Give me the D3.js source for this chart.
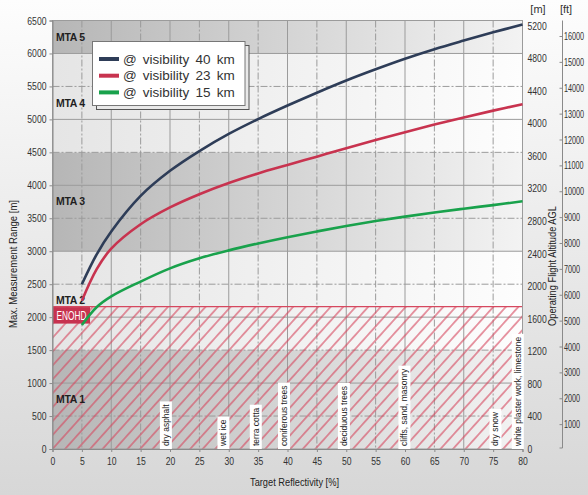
<!DOCTYPE html>
<html>
<head>
<meta charset="utf-8">
<script src="https://cdn.jsdelivr.net/npm/d3@7"></script>
<style>
  html, body { margin: 0; padding: 0; }
  body { width: 588px; height: 495px; overflow: hidden; }
  svg { display: block; }
</style>
</head>
<body>
<svg id="chart" width="588" height="495"></svg>
<script>
// Target reflectivity [%] sample points
const reflectivity = [5, 7.5, 10, 15, 20, 25, 30, 35, 40, 45, 50, 55, 60, 65, 70, 75, 80];
// Max. measurement range [m] for each visibility
const range40km = [2500, 2950, 3300, 3840, 4220, 4520, 4780, 5005, 5210, 5405, 5590, 5760, 5920, 6065, 6195, 6320, 6440];
const range23km = [2250, 2725, 3040, 3410, 3665, 3865, 4035, 4180, 4308, 4435, 4562, 4686, 4806, 4921, 5030, 5133, 5230];
const range15km = [1880, 2150, 2315, 2540, 2740, 2893, 3013, 3118, 3213, 3300, 3383, 3458, 3525, 3588, 3645, 3700, 3757];
const seriesNames = ["@ visibility 40 km", "@ visibility 23 km", "@ visibility 15 km"];
const seriesColors = ["#2e3d58", "#c8334f", "#19a24c"];

// Multiple-time-around zones
const mtaNames = ["MTA 1", "MTA 2", "MTA 3", "MTA 4", "MTA 5"];
const mtaBounds = [0, 1500, 3000, 4500, 6000, 6500];

// Eye-safety distance
const enohd = 2160;

// Typical targets
const materials = ["dry asphalt", "wet ice", "terra cotta", "coniferous trees", "deciduous trees",
                   "cliffs, sand, masonry", "dry snow", "white plaster work, limestone"];
const materialRefl = [19.3, 29.1, 34.6, 39.4, 49.6, 59.9, 75.4, 79.2];

// Axis ticks
const xTicks = d3.range(0, 81, 5);
const yTicks = d3.range(0, 6501, 500);
const mTicks = d3.range(0, 5201, 400);
const ftTicks = d3.range(1000, 16001, 1000);

const svg = d3.select("#chart");
const defs = svg.append("defs");

const x = d3.scaleLinear().domain([0, 80]).range([52.5, 522.5]);
const y = d3.scaleLinear().domain([0, 6500]).range([449, 20.5]);
const yM = d3.scaleLinear().domain([0, 5200]).range([449, 25.5]);
const yFt = d3.scaleLinear().domain([0, 16000]).range([450, 36]);

const x0 = x(0), x1 = x(80), yTop = y(6500), yBot = y(0);

const sans = "'Liberation Sans', Arial, sans-serif";
// squeeze a text to a narrow width, like a condensed face
function narrow(sel, perChar) {
  sel.each(function () {
    const n = this.textContent.length;
    d3.select(this).attr("textLength", n * perChar).attr("lengthAdjust", "spacingAndGlyphs");
  });
}

// page background
const bg = defs.append("linearGradient").attr("id", "pageBg").attr("x1", 0).attr("y1", 0).attr("x2", 0).attr("y2", 1);
bg.append("stop").attr("offset", "0%").attr("stop-color", "#fdfdfd");
bg.append("stop").attr("offset", "100%").attr("stop-color", "#d7d7d7");
svg.append("rect").attr("width", 588).attr("height", 495).attr("fill", "url(#pageBg)");

// band gradients
function bandGradient(id, c0, c1) {
  const g = defs.append("linearGradient").attr("id", id).attr("x1", 0).attr("y1", 0).attr("x2", 1).attr("y2", 0);
  g.append("stop").attr("offset", "0%").attr("stop-color", c0);
  g.append("stop").attr("offset", "100%").attr("stop-color", c1);
}
bandGradient("bandDark", "#b6b6b6", "#f3f3f3");
bandGradient("bandLight", "#e5e5e5", "#fdfdfd");

const bands = svg.append("g");
mtaNames.forEach((name, i) => {
  const lo = mtaBounds[i], hi = mtaBounds[i + 1];
  bands.append("rect")
    .attr("x", x0).attr("width", x1 - x0)
    .attr("y", y(hi)).attr("height", y(lo) - y(hi))
    .attr("fill", i % 2 === 0 ? "url(#bandDark)" : "url(#bandLight)");
});

// grid
const grid = svg.append("g").attr("stroke", "#9b9b9b").attr("stroke-width", 1).attr("fill", "none");
xTicks.filter(v => v > 0 && v < 80).forEach(v => {
  grid.append("line")
    .attr("x1", x(v)).attr("x2", x(v)).attr("y1", yTop).attr("y2", yBot)
    .attr("stroke-dasharray", v % 10 === 0 ? null : "7,2,2,2");
});
yTicks.filter(v => v > 0 && v < 6500).forEach(v => {
  grid.append("line")
    .attr("x1", x0).attr("x2", x1).attr("y1", y(v)).attr("y2", y(v))
    .attr("stroke-dasharray", v % 1000 === 0 ? null : "7,2,2,2");
});

// hatched zone below ENOHD
const pat = defs.append("pattern").attr("id", "hatch")
  .attr("patternUnits", "userSpaceOnUse").attr("width", 9.3).attr("height", 10)
  .attr("patternTransform", "rotate(42)");
pat.append("line").attr("x1", 4.65).attr("x2", 4.65).attr("y1", 0).attr("y2", 10)
  .attr("stroke", "#d6485f").attr("stroke-width", 1.1);
svg.append("rect")
  .attr("x", x0).attr("width", x1 - x0)
  .attr("y", y(enohd)).attr("height", yBot - y(enohd))
  .attr("fill", "url(#hatch)");
svg.append("line")
  .attr("x1", x0).attr("x2", x1).attr("y1", y(enohd)).attr("y2", y(enohd))
  .attr("stroke", "#d6485f").attr("stroke-width", 1.2);

// plot frame
svg.append("rect").attr("x", x0).attr("y", yTop).attr("width", x1 - x0).attr("height", yBot - yTop)
  .attr("fill", "none").attr("stroke", "#9b9b9b").attr("stroke-width", 1);

// MTA labels
svg.append("g").selectAll("text").data(mtaNames).join("text")
  .attr("x", x0 + 3.5)
  .attr("y", (d, i) => y((mtaBounds[i] + mtaBounds[i + 1]) / 2))
  .attr("dy", "0.35em")
  .attr("font-family", sans)
  .attr("font-weight", "bold").attr("font-size", 10.5).attr("fill", "#1f1f1f")
  .attr("letter-spacing", -0.3)
  .text(d => d);

// ENOHD tag
const tagW = x(6.3) - x0;
svg.append("rect").attr("x", x0 + 0.5).attr("y", y(enohd) + 0.5).attr("width", tagW).attr("height", 16.5)
  .attr("fill", "#c7324f");
svg.append("text").attr("x", x0 + 0.5 + tagW / 2).attr("y", y(enohd) + 9).attr("dy", "0.36em")
  .attr("text-anchor", "middle").attr("fill", "#ffffff")
  .attr("font-family", sans).attr("font-size", 12)
  .attr("textLength", 30).attr("lengthAdjust", "spacingAndGlyphs")
  .text("ENOHD");

// material labels
const matG = svg.append("g");
materials.forEach((m, i) => {
  const cx = x(materialRefl[i]);
  const g = matG.append("g").attr("transform", `translate(${cx},${yBot})`);
  const r = g.append("rect").attr("fill", "#ffffff");
  const t = g.append("text").attr("transform", "rotate(-90)")
    .attr("x", 3).attr("y", 0).attr("dy", "0.35em")
    .attr("font-family", sans)
    .attr("font-size", 8.5).attr("fill", "#222").text(m);
  const len = t.node().getComputedTextLength();
  r.attr("x", -6).attr("width", 12).attr("y", -(len + 6)).attr("height", len + 6);
});

// curves
const seriesData = [range40km, range23km, range15km];
const line = d3.line().x(d => x(d[0])).y(d => y(d[1])).curve(d3.curveCatmullRom.alpha(0.5));
svg.append("g").selectAll("path").data(seriesData).join("path")
  .attr("d", s => line(reflectivity.map((r, i) => [r, s[i]])))
  .attr("fill", "none")
  .attr("stroke", (d, i) => seriesColors[i])
  .attr("stroke-width", 2.6);

// axes
const axL = svg.append("g").attr("transform", `translate(${x0},0)`)
  .call(d3.axisLeft(y).tickValues(yTicks).tickSize(3).tickPadding(3).tickFormat(d3.format("d")));
const axB = svg.append("g").attr("transform", `translate(0,${yBot})`)
  .call(d3.axisBottom(x).tickValues(xTicks).tickSize(3).tickPadding(5).tickFormat(d3.format("d")));
const axM = svg.append("g").attr("transform", `translate(${x1},0)`)
  .call(d3.axisRight(yM).tickValues(mTicks).tickSize(0).tickPadding(5).tickFormat(d3.format("d")));
axM.select(".domain").remove();
const ftX = 562.5;
const axF = svg.append("g").attr("transform", `translate(${ftX},0)`)
  .call(d3.axisLeft(yFt).tickValues(ftTicks).tickSize(3).tickFormat(d3.format("d")));
axF.select(".domain").attr("d", `M0,${yTop}V${yBot - 1}H-3`);

[axL, axB, axM].forEach(a => {
  a.selectAll(".tick text").attr("font-family", sans).attr("font-size", 11).attr("fill", "#333")
    .call(narrow, 4.8);
});
[axL, axB, axM, axF].forEach(a => {
  a.selectAll(".domain").attr("stroke", "#8a8a8a");
  a.selectAll(".tick line").attr("stroke", "#8a8a8a");
});
// feet labels: horizontally compressed so the five-digit values fit the margin
const ftSx = 0.66;
axF.selectAll(".tick text")
  .attr("font-family", sans).attr("font-size", 11).attr("fill", "#333")
  .attr("text-anchor", "start")
  .attr("x", 1.5 / ftSx)
  .attr("transform", `scale(${ftSx},1)`);

// unit headers
svg.append("text").attr("x", 538).attr("y", 13).attr("text-anchor", "middle")
  .attr("font-family", sans).attr("font-size", 11).attr("fill", "#333").text("[m]");
svg.append("text").attr("x", 566).attr("y", 13).attr("text-anchor", "middle")
  .attr("font-family", sans).attr("font-size", 11).attr("fill", "#333").text("[ft]");

// axis titles
svg.append("text").attr("transform", "translate(16.5,264) rotate(-90)").attr("text-anchor", "middle")
  .attr("font-family", sans).attr("font-size", 11).attr("fill", "#222")
  .attr("textLength", 128).attr("lengthAdjust", "spacingAndGlyphs")
  .text("Max. Measurement Range [m]");
svg.append("text").attr("transform", "translate(555.5,266) rotate(-90)").attr("text-anchor", "middle")
  .attr("font-family", sans).attr("font-size", 11).attr("fill", "#222")
  .attr("textLength", 120).attr("lengthAdjust", "spacingAndGlyphs")
  .text("Operating Flight Altitude AGL");
svg.append("text").attr("x", 294.5).attr("y", 486).attr("text-anchor", "middle")
  .attr("font-family", sans).attr("font-size", 11).attr("fill", "#222")
  .attr("textLength", 89).attr("lengthAdjust", "spacingAndGlyphs")
  .text("Target Reflectivity [%]");

// legend
const lg = svg.append("g").attr("transform", "translate(92.5,41.5)");
const lgW = 152.5, lgH = 64;
lg.append("rect").attr("x", 4).attr("y", 4).attr("width", lgW).attr("height", lgH)
  .attr("fill", "#e9e9e9").attr("stroke", "#555").attr("stroke-width", 1);
lg.append("rect").attr("width", lgW).attr("height", lgH)
  .attr("fill", "#ffffff").attr("stroke", "#777").attr("stroke-width", 1);
seriesNames.forEach((name, i) => {
  const cy = 17.5 + i * 16.7;
  lg.append("line").attr("x1", 6.5).attr("x2", 26.5).attr("y1", cy).attr("y2", cy)
    .attr("stroke", seriesColors[i]).attr("stroke-width", 4);
  lg.append("text").attr("x", 30.5).attr("y", cy).attr("dy", "0.35em")
    .attr("font-family", sans)
    .attr("font-size", 13.5).attr("word-spacing", 2.4).attr("fill", "#333")
    .text(name);
});
</script>
</body>
</html>
